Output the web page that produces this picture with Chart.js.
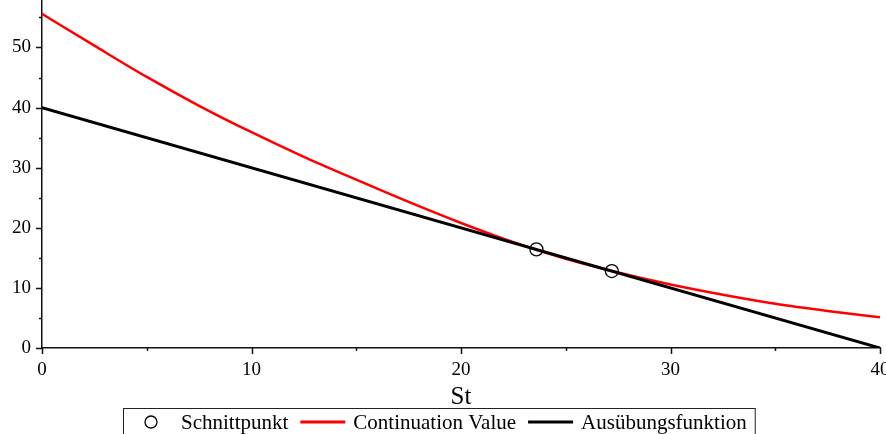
<!DOCTYPE html>
<html>

<head>
  <title>Continuation Value</title>
  <style>
    body { margin: 0; background: #fff; }
    #wrap { width: 886px; height: 434px; }
  </style>
</head>

<body>
  <div id="wrap"><canvas id="chart"></canvas></div>
  <script src="https://cdn.jsdelivr.net/npm/chart.js"></script>
  <script>
    // Aktienkurs St und Wert der Option
    const stValues = [0, 2.5, 5, 7.5, 10, 12.5, 15, 17.5, 20, 22.5, 25, 27.5, 30, 32.5, 35, 37.5, 40];
    const continuationValues = [55.6, 50.3, 45.1, 40.3, 35.9, 31.8, 28.0, 24.3, 20.8, 17.6, 14.85, 12.55, 10.55, 8.85, 7.35, 6.15, 5.1];
    const exerciseSt = [0, 40];
    const exerciseValues = [40, 0];
    const crossSt = [23.6, 27.2];
    const crossValues = [16.4, 12.8];
    const xTickLabels = [0, 10, 20, 30, 40];
    const yTickLabels = [0, 10, 20, 30, 40, 50];
    const legendLabels = ['Schnittpunkt', 'Continuation Value', 'Ausübungsfunktion'];

    const serif = '"Liberation Serif", "Times New Roman", serif';

    const toPoints = (xs, ys) => xs.map((x, i) => ({ x: x, y: ys[i] }));

    // keine automatischen Ränder für überstehende Beschriftungen
    const noPadding = (s) => {
      s.paddingTop = 0;
      s.paddingBottom = 0;
      s.paddingLeft = 0;
      s.paddingRight = 0;
    };

    // kleine Striche an den Achsen, Haupt- und Zwischenstriche
    const axisTicks = {
      id: 'axisTicks',
      afterDraw(chart) {
        const ctx = chart.ctx;
        const xs = chart.scales.x;
        const ys = chart.scales.y;
        ctx.save();
        ctx.strokeStyle = '#111';
        ctx.lineWidth = 1.5;
        const bottom = chart.chartArea.bottom;
        const left = chart.chartArea.left;
        xTickLabels.forEach((v) => {
          [v, v + 5].forEach((t, k) => {
            if (t > xs.max) return;
            const px = Math.round(xs.getPixelForValue(t)) + 0.5;
            ctx.beginPath();
            ctx.moveTo(px, bottom);
            ctx.lineTo(px, bottom + (k === 0 ? 6 : 3));
            ctx.stroke();
          });
        });
        yTickLabels.forEach((v) => {
          [v, v + 5].forEach((t, k) => {
            if (t > ys.max) return;
            const py = Math.round(ys.getPixelForValue(t)) + 0.5;
            ctx.beginPath();
            ctx.moveTo(left, py);
            ctx.lineTo(left - (k === 0 ? 6 : 3), py);
            ctx.stroke();
          });
        });
        ctx.restore();
      }
    };

    // Legende unten im Kasten
    const boxLegend = {
      id: 'boxLegend',
      afterDraw(chart) {
        const ctx = chart.ctx;
        const ds = chart.data.datasets;
        ctx.save();
        ctx.font = '21px ' + serif;
        ctx.textBaseline = 'middle';
        ctx.fillStyle = '#000';
        const boxLeft = 123, boxTop = 408, cy = 422;
        let x = boxLeft + 5;
        ds.forEach((d, i) => {
          if (d.showLine === false) {
            ctx.beginPath();
            ctx.lineWidth = 1.3;
            ctx.strokeStyle = d.borderColor;
            ctx.arc(x + 23, cy, 6, 0, Math.PI * 2);
            ctx.stroke();
          } else {
            ctx.beginPath();
            ctx.lineWidth = 3;
            ctx.strokeStyle = d.borderColor;
            ctx.moveTo(x, cy);
            ctx.lineTo(x + 45, cy);
            ctx.stroke();
          }
          x += 53;
          ctx.fillText(legendLabels[i], x, cy + 1);
          x += ctx.measureText(legendLabels[i]).width + 12;
        });
        ctx.lineWidth = 1;
        ctx.strokeStyle = '#222';
        ctx.strokeRect(boxLeft + 0.5, boxTop + 0.5, x - boxLeft - 4, 60);
        ctx.restore();
      }
    };

    new Chart(document.getElementById('chart'), {
      type: 'scatter',
      data: {
        datasets: [
          {
            label: legendLabels[0],
            data: toPoints(crossSt, crossValues),
            showLine: false,
            pointStyle: 'circle',
            pointRadius: 6.5,
            pointBorderWidth: 1.3,
            borderColor: '#000',
            backgroundColor: 'rgba(0,0,0,0)',
            order: 0
          },
          {
            label: legendLabels[1],
            data: toPoints(stValues, continuationValues),
            showLine: true,
            borderColor: '#ff0000',
            borderWidth: 2.5,
            pointRadius: 0,
            cubicInterpolationMode: 'monotone',
            order: 2
          },
          {
            label: legendLabels[2],
            data: toPoints(exerciseSt, exerciseValues),
            showLine: true,
            borderColor: '#000',
            borderWidth: 3,
            pointRadius: 0,
            order: 1
          }
        ]
      },
      options: {
        responsive: true,
        maintainAspectRatio: false,
        animation: false,
        layout: { autoPadding: false, padding: { left: 0, right: 6, top: 0, bottom: 0 } },
        plugins: {
          legend: { display: false },
          tooltip: { enabled: false }
        },
        scales: {
          x: {
            type: 'linear',
            min: 0,
            max: 40,
            afterBuildTicks: (s) => { s.ticks = xTickLabels.map((v) => ({ value: v })); },
            afterFit: (s) => { s.height = 86; noPadding(s); },
            grid: { display: false, drawTicks: false },
            border: { display: true, color: '#111', width: 1.5 },
            ticks: { color: '#000', font: { family: serif, size: 19 }, padding: 11, maxRotation: 0 },
            title: { display: true, text: 'St', color: '#000', font: { family: serif, size: 25 }, padding: { top: 0, bottom: 22 } }
          },
          y: {
            type: 'linear',
            min: 0,
            max: 57.9,
            afterBuildTicks: (s) => { s.ticks = yTickLabels.map((v) => ({ value: v })); },
            afterFit: (s) => { s.width = 42; noPadding(s); },
            grid: { display: false, drawTicks: false },
            border: { display: true, color: '#111', width: 1.5 },
            ticks: { color: '#000', font: { family: serif, size: 19 }, padding: 11 }
          }
        }
      },
      plugins: [axisTicks, boxLegend]
    });
  </script>
</body>

</html>
